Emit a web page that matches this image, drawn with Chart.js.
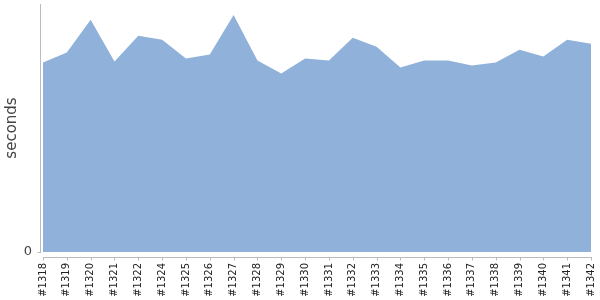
<!DOCTYPE html>
<html>
<head>
<meta charset="utf-8">
<script src="https://cdn.jsdelivr.net/npm/chart.js@4/dist/chart.umd.min.js"></script>
<style>
  html, body { margin: 0; padding: 0; background: #fff; }
  #wrap { width: 600px; height: 300px; }
</style>
</head>
<body>
<div id="wrap"><canvas id="myChart" width="600" height="300"></canvas></div>
<script>
const builds = ['#1318', '#1319', '#1320', '#1321', '#1322', '#1324', '#1325', '#1326', '#1327', '#1328',
    '#1329', '#1330', '#1331', '#1332', '#1333', '#1334', '#1335', '#1336', '#1337', '#1338',
    '#1339', '#1340', '#1341', '#1342'];
const seconds = [191, 201, 234, 192, 218, 214, 195, 199, 239, 193,
    180, 195, 193, 216, 207, 186, 193, 193, 188, 191,
    204, 197, 214, 210];
const yTicks = [0];
const yMax = 250;

const axisColor = '#bbbbbb';

// axis lines are offset from the plot like the original, drawn from the scales
const axisLines = {
    id: 'axisLines',
    afterDraw(chart) {
        const ctx = chart.ctx;
        const x = chart.scales.x;
        const y = chart.scales.y;
        const x0 = x.getPixelForValue(0);
        const x1 = x.getPixelForValue(builds.length - 1);
        const yTop = y.getPixelForValue(yMax);
        const yZero = y.getPixelForValue(0);
        ctx.save();
        ctx.strokeStyle = axisColor;
        ctx.lineWidth = 1;
        ctx.beginPath();
        // y axis
        const ax = Math.round(x0 - 3) + 0.5;
        ctx.moveTo(ax, yTop);
        ctx.lineTo(ax, yZero + 1);
        ctx.moveTo(ax - 3, Math.round(yZero) + 0.5);
        ctx.lineTo(ax, Math.round(yZero) + 0.5);
        // x axis
        const ay = Math.round(yZero + 5) + 0.5;
        ctx.moveTo(x0, ay);
        ctx.lineTo(x1 + 1, ay);
        for (let i = 0; i < builds.length; i++) {
            const px = Math.round(x.getPixelForValue(i)) + 0.5;
            ctx.moveTo(px, ay);
            ctx.lineTo(px, ay + 3);
        }
        ctx.stroke();
        ctx.restore();
    }
};

const ctx = document.getElementById('myChart').getContext('2d');
new Chart(ctx, {
    type: 'line',
    data: {
        labels: builds,
        datasets: [{
            data: seconds,
            fill: 'origin',
            backgroundColor: '#8fb1da',
            borderColor: '#8fb1da',
            borderWidth: 0,
            pointRadius: 0,
            tension: 0
        }]
    },
    options: {
        responsive: false,
        animation: false,
        layout: { padding: { top: 4, right: 9, left: 0, bottom: 0 } },
        plugins: { legend: { display: false }, tooltip: { enabled: false } },
        scales: {
            x: {
                offset: false,
                grid: { display: false, drawTicks: false },
                border: { display: false },
                ticks: {
                    autoSkip: false,
                    minRotation: 90,
                    maxRotation: 90,
                    padding: 11,
                    color: '#222',
                    font: { family: 'DejaVu Sans', size: 10 }
                },
                afterFit: s => { s.height = 48; s.paddingLeft = 0; s.paddingRight = 0; }
            },
            y: {
                min: 0,
                max: yMax,
                grid: { display: false, drawTicks: false },
                border: { display: false },
                afterBuildTicks: s => { s.ticks = yTicks.map(v => ({ value: v })); },
                ticks: {
                    padding: 11,
                    color: '#444',
                    font: { family: 'DejaVu Sans', size: 13 }
                },
                title: {
                    display: true,
                    text: 'seconds',
                    color: '#444',
                    padding: { top: 3, bottom: 0 },
                    font: { family: 'DejaVu Sans', size: 15 }
                },
                afterFit: s => { s.width = 43; s.paddingTop = 0; s.paddingBottom = 0; }
            }
        }
    },
    plugins: [axisLines]
});
</script>
</body>
</html>
